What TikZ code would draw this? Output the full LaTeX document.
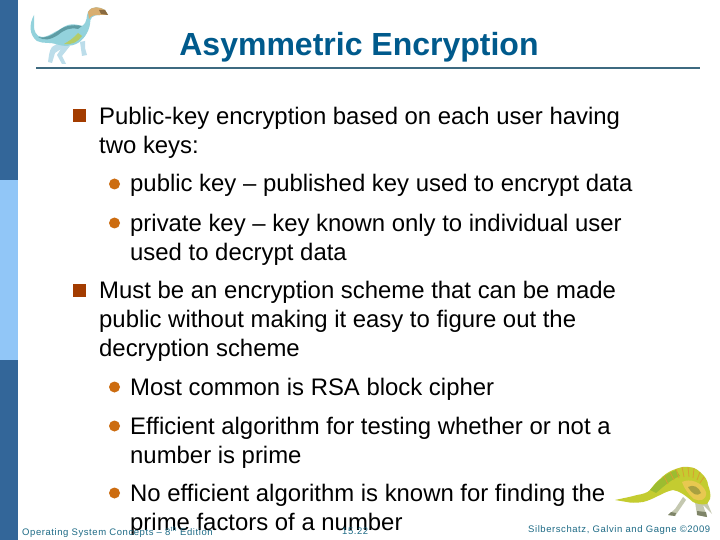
\documentclass[tikz,border=0pt]{standalone}
\usepackage{xcolor}
\usepackage{fontspec}
\setmainfont{Liberation Sans}
\definecolor{bar}{HTML}{336699}
\definecolor{barlight}{HTML}{91C6F7}
\definecolor{titleblue}{HTML}{005A8C}
\definecolor{rulec}{HTML}{3E6A80}
\definecolor{foot}{HTML}{1E6B86}
\definecolor{sqb}{HTML}{A33C00}
\definecolor{rnd}{HTML}{CC6C10}
\definecolor{teal}{HTML}{93D2DC}
\definecolor{paleblue}{HTML}{BCDDEA}
\definecolor{midgreen}{HTML}{B4CC68}
\definecolor{dkteal}{HTML}{5E9CA4}
\definecolor{headc}{HTML}{D8AE70}
\definecolor{headd}{HTML}{8A6A40}
\definecolor{yel}{HTML}{C4CC30}
\definecolor{grn}{HTML}{9CBC30}
\definecolor{gold}{HTML}{E8C850}
\definecolor{ribc}{HTML}{D8A030}
\definecolor{olive}{HTML}{A8A040}
\definecolor{legc}{HTML}{C4C8B0}
\definecolor{legd}{HTML}{7E8468}
\tikzset{
  lvla/.style={anchor=base west, inner sep=0pt, font=\fontsize{23.9}{24}\selectfont},
  sq/.style={rectangle, fill=sqb, minimum size=13pt, inner sep=0pt},
  rnd/.style={circle, fill=rnd, minimum size=11pt, inner sep=0pt},
  foottxt/.style={anchor=base west, inner sep=0pt, text=foot, font=\fontsize{9.5}{10}\selectfont\addfontfeatures{LetterSpace=6}},
}
\begin{document}
\begin{tikzpicture}[x=1pt,y=-1pt]
  \useasboundingbox (0,0) rectangle (720,540);
  \fill[white] (0,0) rectangle (720,540);

  % side bar
  \fill[bar] (0,0) rectangle (18,540);
  \fill[barlight] (0,180) rectangle (18,360);

  % title
  \node[inner sep=0pt, anchor=base, text=titleblue, font=\fontsize{32}{32}\selectfont\bfseries] (title) at (359,56) {Asymmetric Encryption};
  \draw[rulec, line width=1.5pt] (36,68) -- (700,68);

  % upper dinosaur
  \fill[paleblue] (60,42) -- (52,47) .. controls (49,51) and (49,56) .. (48,62) -- (52,63) -- (55,53) -- (61,49) -- (57,55) -- (62,64) -- (66,64) -- (62,56) -- (70,46) -- cycle;
  \fill[paleblue] (80,42) -- (82,56) -- (87,55) -- (85,48) -- (85,41) -- cycle;
  \fill[teal] (34,15) .. controls (29,24) and (29,35) .. (37,41) .. controls (43,44) and (50,42) .. (56,44) .. controls (64,47) and (72,46) .. (76,44) .. controls (83,41) and (89,32) .. (90,24) .. controls (90,18) and (92,15) .. (100,15) -- (108,15) -- (105,10) .. controls (100,7) and (92,5) .. (88,12) .. controls (86,16) and (88,22) .. (82,26) .. controls (76,24) and (72,24) .. (68,25) .. controls (62,27) and (60,30) .. (55,32) .. controls (50,35) and (46,37) .. (42,37) .. controls (36,37) and (34,30) .. (34,27) -- cycle;
  \fill[dkteal] (38,37) .. controls (46,39) and (52,35) .. (58,31) .. controls (64,26) and (72,24) .. (82,26) -- (78,29) .. controls (70,27) and (64,30) .. (58,35) .. controls (50,40) and (44,41) .. (38,37) -- cycle;
  \fill[midgreen] (64,44) .. controls (72,45) and (78,42) .. (82,36) -- (78,33) .. controls (74,38) and (69,41) .. (64,44) -- cycle;
  \fill[headc] (88,12) .. controls (92,5) and (100,7) .. (105,10) -- (108,15) -- (100,15) .. controls (95,15) and (91,15) .. (89,19) -- cycle;
  \fill[headd] (99,10) -- (105,10) -- (108,15) -- (101,14) -- cycle;

  % lower dinosaur
  \fill[legc] (683,497) -- (675,509) -- (668,515) -- (675,516) -- (686,500) -- cycle;
  \fill[legc] (695,502) -- (697,515) -- (707,517) -- (703,505) -- (712,514) -- (707,502) -- cycle;
  \fill[legd] (668,515) -- (675,516) -- (676,513) -- (671,512) -- cycle;
  \fill[legd] (697,511) -- (697,515) -- (707,517) -- (706,512) -- cycle;
  \fill[yel] (615,500) .. controls (624,498) and (630,497) .. (637,495) .. controls (643,494) and (647,493) .. (650,490) .. controls (654,485) and (656,482) .. (660,479) .. controls (664,475) and (668,472) .. (673,470) .. controls (678,468) and (684,466) .. (688,467) .. controls (693,467) and (697,469) .. (700,472) .. controls (705,476) and (708,481) .. (708,485) .. controls (710,490) and (711,495) .. (710,499) -- (707,504) .. controls (702,505) and (697,504) .. (693,502) .. controls (686,496) and (680,491) .. (673,490) .. controls (668,491) and (664,493) .. (660,495) .. controls (654,498) and (648,501) .. (643,502) .. controls (637,503) and (630,503) .. (627,502) -- cycle;
  \fill[grn] (650,490) .. controls (655,484) and (664,474) .. (676,470) -- (680,476) .. controls (670,480) and (662,488) .. (656,493) -- cycle;
  \fill[gold] (682,482) .. controls (690,478) and (702,482) .. (706,492) .. controls (707,500) and (700,502) .. (694,499) .. controls (688,494) and (684,488) .. (682,482) -- cycle;
  \fill[olive] (688,487) .. controls (693,484) and (699,487) .. (701,493) .. controls (697,497) and (692,494) .. (688,487) -- cycle;
  \foreach \xa/\ya/\xb/\yb in {664/476/668/484, 670/472/674/480, 676/469/679/478, 682/467/684/477, 688/467/689/477, 694/468/693/478, 700/472/697/480, 704/477/700/483} {
    \draw[ribc, line width=0.8pt] (\xa,\ya) -- (\xb,\yb);
  }

  % bullets
  \foreach \nm/\yy in {sa/116, sb/290} {
    \node[sq] (\nm) at (79.5,\yy) {};
  }
  \foreach \nm/\yy in {ra/184, rb/223, rc/387, rd/426, re/493} {
    \node[rnd] (\nm) at (114.5,\yy) {};
  }

  % text
  \node[lvla] (ta) at (99,125) {Public-key encryption based on each user having};
  \node[lvla] (tb) at (99,154) {two keys:};
  \node[lvla] (tc) at (130,192) {public key -- published key used to encrypt data};
  \node[lvla] (td) at (130,231) {private key -- key known only to individual user};
  \node[lvla] (te) at (130,260) {used to decrypt data};
  \node[lvla] (tf) at (99,298) {Must be an encryption scheme that can be made};
  \node[lvla] (tg) at (99,327) {public without making it easy to figure out the};
  \node[lvla] (th) at (99,356) {decryption scheme};
  \node[lvla] (ti) at (130,395) {Most common is RSA block cipher};
  \node[lvla] (tj) at (130,434) {Efficient algorithm for testing whether or not a};
  \node[lvla] (tk) at (130,463) {number is prime};
  \node[lvla] (tl) at (130,501) {No efficient algorithm is known for finding the};
  \node[lvla] (tm) at (130,530) {prime factors of a number};

  % footer
  \node[foottxt] (fa) at (22,535) {Operating System Concepts -- 8\textsuperscript{th} Edition};
  \node[foottxt] (fb) at (342,534) {15.22};
  \node[foottxt] (fc) at (528,532) {Silberschatz, Galvin and Gagne ©2009};
\end{tikzpicture}
\end{document}
